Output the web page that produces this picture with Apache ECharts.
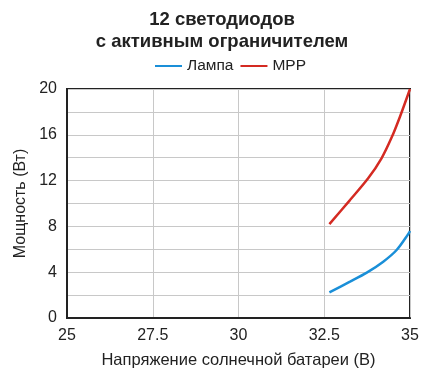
<!DOCTYPE html>
<html><head><meta charset="utf-8">
<script src="https://cdn.jsdelivr.net/npm/echarts@6/dist/echarts.min.js"></script>
<style>html,body{margin:0;padding:0;background:#fff}#c{width:444px;height:385px}</style>
</head><body><div id="c"></div>
<script>
const lampX = [32.65, 33.25, 33.74, 34.22, 34.61, 34.95, 35.0];
const lampY = [2.24, 3.17, 3.96, 4.92, 5.94, 7.34, 7.6];
const mppX = [32.65, 33.25, 33.78, 34.17, 34.47, 34.71, 35.0];
const mppY = [8.2, 10.3, 12.2, 13.95, 15.8, 17.6, 20.0];
const xTicks = [25, 27.5, 30, 32.5, 35];
const yTicks = [0, 4, 8, 12, 16, 20];
const ff = '"Liberation Sans", Arial, sans-serif';
const chart = echarts.init(document.getElementById('c'));
chart.setOption({
  animation: false,
  textStyle: {fontFamily: ff},
  title: {
    text: '12 светодиодов\nс активным ограничителем',
    left: 'center', top: 4,
    textStyle: {fontSize: 18.5, fontWeight: 'bold', color: '#222', lineHeight: 22, fontFamily: ff}
  },
  legend: {
    top: 53, left: 150, itemWidth: 27, itemHeight: 2, itemGap: 7,
    icon: 'rect',
    textStyle: {fontSize: 15.5, color: '#222', padding: [0,0,0,0], fontFamily: ff},
    data: ['Лампа', 'MPP']
  },
  grid: {left: 67, right: 34, top: 89, bottom: 67, show: true, borderColor: '#222', borderWidth: 2, containLabel: false},
  xAxis: {
    type: 'value', min: 25, max: 35, interval: 2.5,
    name: 'Напряжение солнечной батареи (В)', nameLocation: 'middle', nameGap: 34,
    nameTextStyle: {fontSize: 16.5, color: '#222', fontFamily: ff},
    axisLine: {show: true, lineStyle: {color: '#222', width: 2}},
    axisTick: {show: false},
    axisLabel: {fontSize: 16, color: '#222', margin: 10, fontFamily: ff,
      formatter: v => xTicks.includes(v) ? String(v) : ''},
    splitLine: {show: true, lineStyle: {color: '#c8c8c8', width: 1}}
  },
  yAxis: {
    type: 'value', min: 0, max: 20, interval: 4,
    name: 'Мощность (Вт)', nameLocation: 'middle', nameGap: 37,
    nameTextStyle: {fontSize: 16, color: '#222', fontFamily: ff},
    axisLine: {show: true, lineStyle: {color: '#222', width: 2}},
    axisTick: {show: false},
    axisLabel: {fontSize: 16, color: '#222', margin: 10, fontFamily: ff,
      formatter: v => yTicks.includes(v) ? String(v) : ''},
    splitLine: {show: true, lineStyle: {color: '#c8c8c8', width: 1}},
    minorTick: {show: false, splitNumber: 2},
    minorSplitLine: {show: true, lineStyle: {color: '#c8c8c8', width: 1}}
  },
  series: [
    {name: 'Лампа', type: 'line', smooth: 0.3, showSymbol: false, symbol: 'none',
     itemStyle: {color: '#1a8fd8'}, lineStyle: {color: '#1a8fd8', width: 2.5},
     data: lampX.map((x, i) => [x, lampY[i]])},
    {name: 'MPP', type: 'line', smooth: 0.3, showSymbol: false, symbol: 'none',
     itemStyle: {color: '#d42a22'}, lineStyle: {color: '#d42a22', width: 2.5},
     data: mppX.map((x, i) => [x, mppY[i]])}
  ]
});
</script></body></html>
